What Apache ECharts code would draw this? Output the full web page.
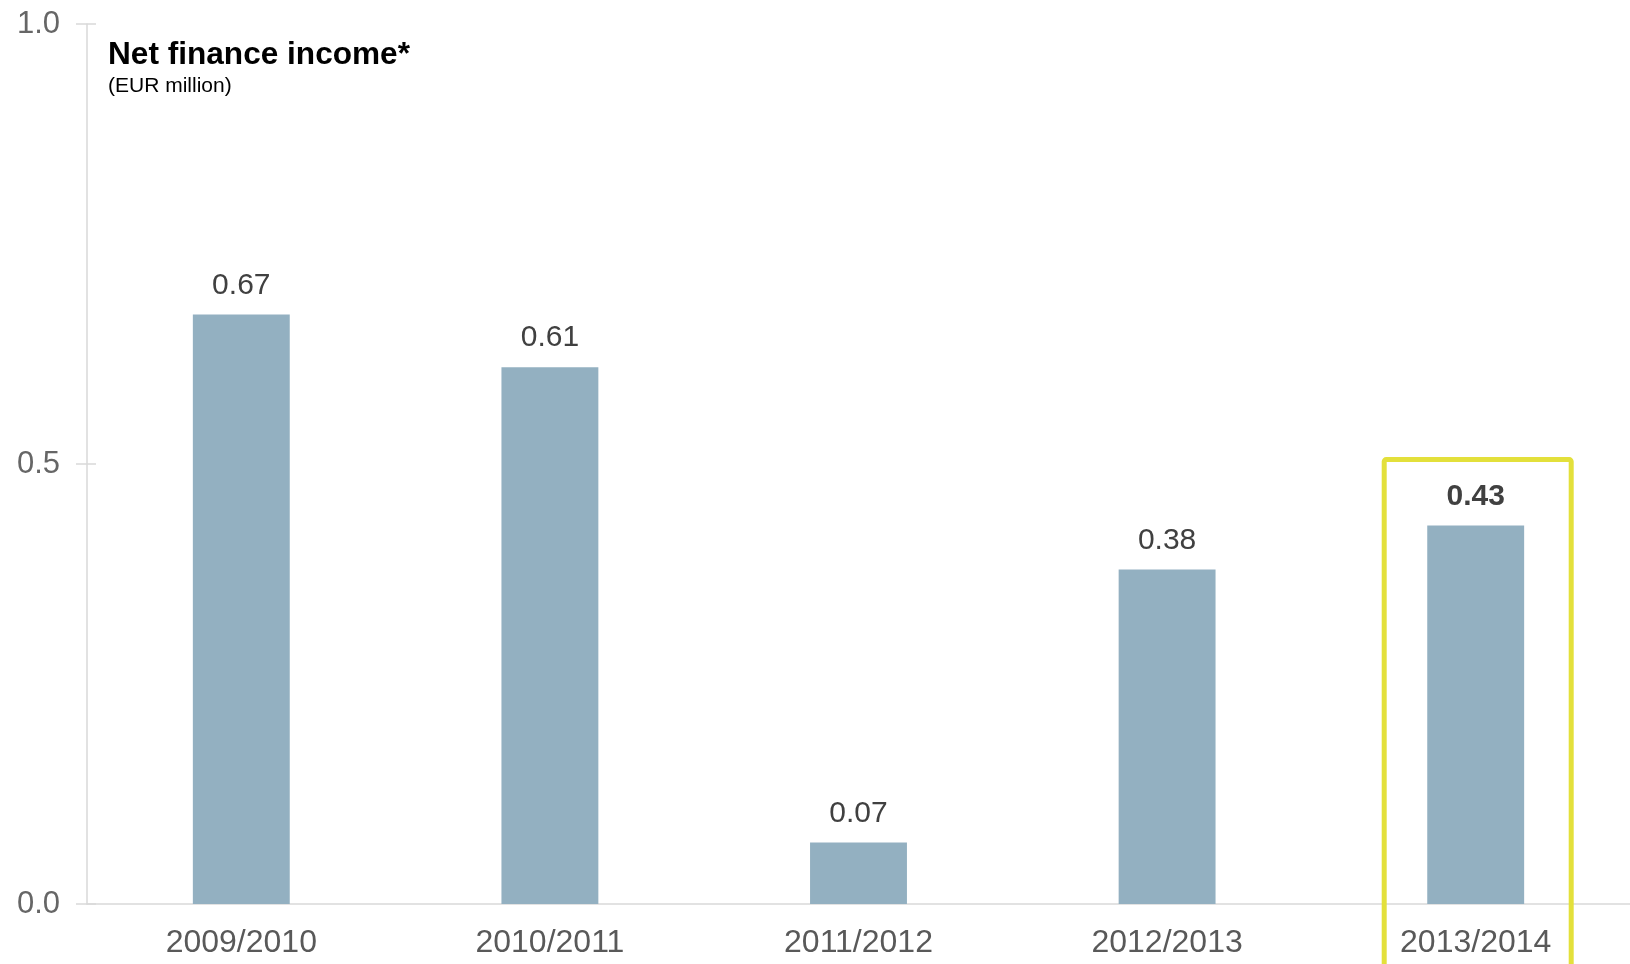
<!DOCTYPE html>
<html>
<head>
<meta charset="utf-8">
<script src="https://cdn.jsdelivr.net/npm/echarts@6/dist/echarts.min.js"></script>
<style>
  html, body { margin: 0; padding: 0; background: #ffffff; }
  #chart { width: 1630px; height: 964px; }
</style>
</head>
<body>
<div id="chart"></div>
<script>
// Net finance income by fiscal year (EUR million)
const categories = ['2009/2010', '2010/2011', '2011/2012', '2012/2013', '2013/2014'];
const values = [0.67, 0.61, 0.07, 0.38, 0.43];
const yTicks = [0, 0.5, 1.0];
const highlightIndex = 4;

const FONT = '"Liberation Sans", Arial, sans-serif';
const chart = echarts.init(document.getElementById('chart'), null, { renderer: 'canvas' });

const barData = values.map((v, i) => ({
  value: v,
  label: i === highlightIndex ? { fontWeight: 'bold' } : {}
}));

const yAxisBase = {
  type: 'value',
  min: yTicks[0],
  max: yTicks[yTicks.length - 1],
  interval: 0.5,
  splitLine: { show: false }
};

chart.setOption({
  animation: false,
  backgroundColor: '#ffffff',
  title: [
    {
      text: 'Net finance income*',
      left: 103, top: 34,
      textStyle: { fontFamily: FONT, fontSize: 31.6, fontWeight: 'bold', color: '#000000' }
    },
    {
      text: '(EUR million)',
      left: 103, top: 71,
      textStyle: { fontFamily: FONT, fontSize: 21, fontWeight: 'normal', color: '#000000' }
    }
  ],
  grid: { left: 87, right: -4, top: 24, bottom: 60, containLabel: false },
  xAxis: {
    type: 'category',
    data: categories,
    axisLine: { show: true, lineStyle: { color: '#d9d9d9', width: 1.5 } },
    axisTick: { show: false },
    axisLabel: { fontFamily: FONT, fontSize: 32, color: '#595959', margin: 23 }
  },
  yAxis: [
    Object.assign({}, yAxisBase, {
      axisLine: { show: true, lineStyle: { color: '#d9d9d9', width: 1.5 } },
      axisTick: { show: true, length: 11, lineStyle: { color: '#d9d9d9', width: 1.5 } },
      axisLabel: {
        fontFamily: FONT, fontSize: 31, color: '#666666', margin: 27,
        formatter: v => v.toFixed(1)
      }
    }),
    // inner half of the crossing tick marks
    Object.assign({}, yAxisBase, {
      position: 'left',
      axisLine: { show: false },
      axisTick: { show: true, inside: true, length: 9, lineStyle: { color: '#d9d9d9', width: 1.5 } },
      axisLabel: { show: false }
    })
  ],
  series: [{
    type: 'bar',
    yAxisIndex: 0,
    data: barData,
    barWidth: '31.4%',
    itemStyle: { color: '#93b0c1' },
    label: {
      show: true,
      position: 'top',
      distance: 14,
      fontFamily: FONT,
      fontSize: 30,
      color: '#404040',
      formatter: p => p.value.toFixed(2)
    }
  }]
});

// Highlight frame around the latest fiscal year
function drawFrame() {
  const cx = chart.convertToPixel({ xAxisIndex: 0 }, categories[highlightIndex]);
  const barTop = chart.convertToPixel({ yAxisIndex: 0 }, values[highlightIndex]);
  const w = 187;
  const top = barTop - 66;
  chart.setOption({
    graphic: [{
      type: 'rect',
      shape: { x: cx + 2 - w / 2, y: top, width: w, height: 964 - top + 20, r: 2 },
      style: { fill: null, stroke: '#e3e03b', lineWidth: 5 },
      silent: true,
      z: 10
    }]
  });
}
drawFrame();
</script>
</body>
</html>
